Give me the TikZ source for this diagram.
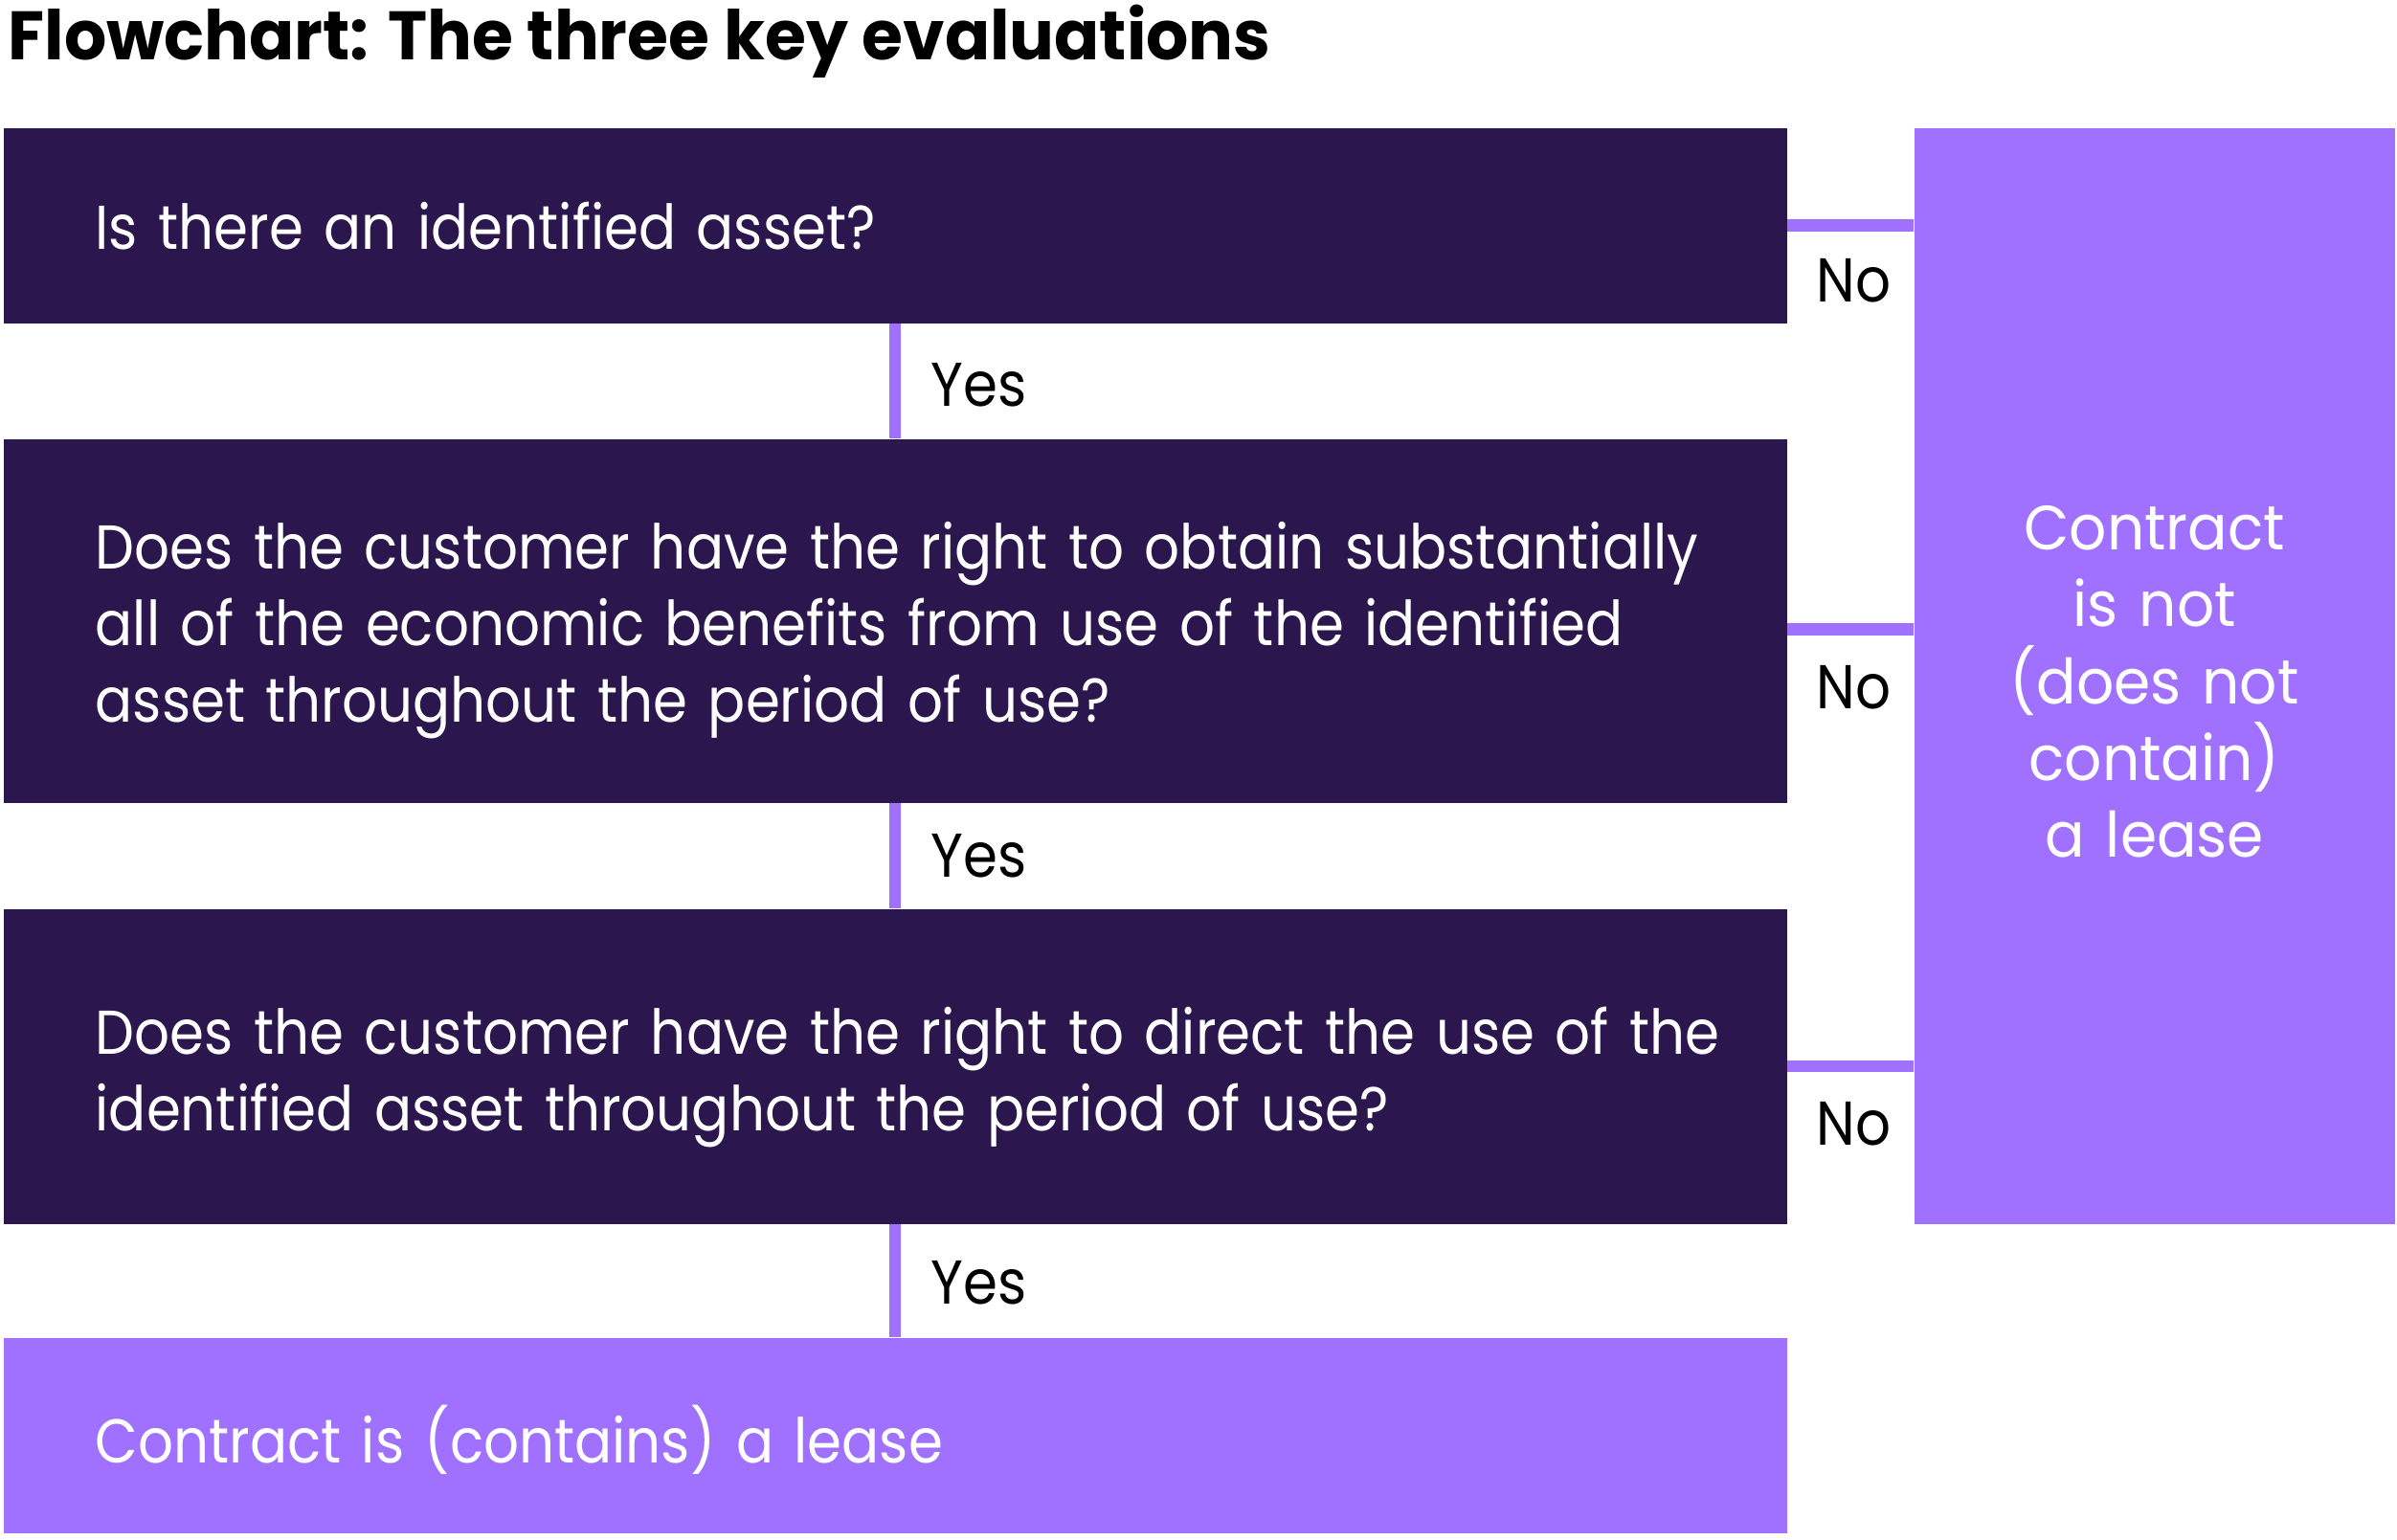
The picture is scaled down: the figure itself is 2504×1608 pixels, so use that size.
\documentclass[tikz,border=0pt]{standalone}
\usepackage{fontspec}
\setmainfont{Poppins}[FakeStretch=0.895]
\newfontfamily\titlefont{Poppins}[FakeStretch=0.97]
\newfontfamily\notefont{Poppins}[FakeStretch=0.94]
\usetikzlibrary{positioning}

\definecolor{plum}{RGB}{44,22,78}
\definecolor{lilac}{RGB}{160,112,255}

\tikzset{
  question/.style={rectangle, fill=plum, text=white, anchor=north west,
    minimum width=186.3mm, text width=186.3mm, inner xsep=0pt,
    align=left, font=\fontsize{18.4}{22.8}\selectfont,
    execute at begin node={\leftskip=9.6mm\relax\hyphenpenalty=10000\relax}},
  outcome/.style={question, fill=lilac},
  textdrop/.style={execute at end node={\par\kern-#1}},
  link/.style={draw=lilac, line width=1.25mm},
  answer/.style={anchor=base west, text=black, inner sep=0pt,
    font=\fontsize{18.4}{22.8}\selectfont}
}

\begin{document}
\begin{tikzpicture}[x=0.1mm, y=-0.1mm]
\useasboundingbox (0,0) rectangle (2504,1608);

\node[anchor=base west, inner sep=0pt, font=\titlefont\bfseries\fontsize{20.4}{24}\selectfont]
  (title) at (8,62) {Flowchart: The three key evaluations};

% the three questions
\node[question, textdrop=0.6mm, minimum height=20.4mm] (q1) at (3,133)
  {Is there an identified asset?};
\node[question, textdrop=2mm, minimum height=38mm] (q2) at (3,458)
  {Does the customer have the right to obtain substantially\\
   all of the economic benefits from use of the identified\\
   asset throughout the period of use?};
\node[question, textdrop=2.2mm, minimum height=32.9mm] (q3) at (3,949)
  {Does the customer have the right to direct the use of the\\
   identified asset throughout the period of use?};
\node[outcome, textdrop=1mm, minimum height=20.4mm] (lease) at (3,1397)
  {Contract is (contains) a lease};

\node[rectangle, fill=lilac, text=white, anchor=north west,
  minimum width=50.2mm, text width=50.2mm, inner xsep=0pt,
  minimum height=114.5mm, align=center, textdrop=1.2mm,
  font=\notefont\fontsize{18.6}{22.8}\selectfont] (nolease) at (1999,133)
  {Contract\\ is not\\ (does not\\ contain)\\ a lease};

% yes
\draw[link] (q1.south) -- (q2.north);
\draw[link] (q2.south) -- (q3.north);
\draw[link] (q3.south) -- (lease.north);
\node[answer] (yes1) at (972,424) {Yes};
\node[answer] (yes2) at (972,916) {Yes};
\node[answer] (yes3) at (972,1362) {Yes};

% no
\draw[link] (q1.east) -- (q1.east -| nolease.west);
\draw[link] ([yshift=-0.9mm]q2.east) -- ([yshift=-0.9mm]q2.east -| nolease.west);
\draw[link] (q3.east) -- (q3.east -| nolease.west);
\node[answer] (no1) at (1897,315) {No};
\node[answer] (no2) at (1897,740) {No};
\node[answer] (no3) at (1897,1196) {No};
\end{tikzpicture}
\end{document}
